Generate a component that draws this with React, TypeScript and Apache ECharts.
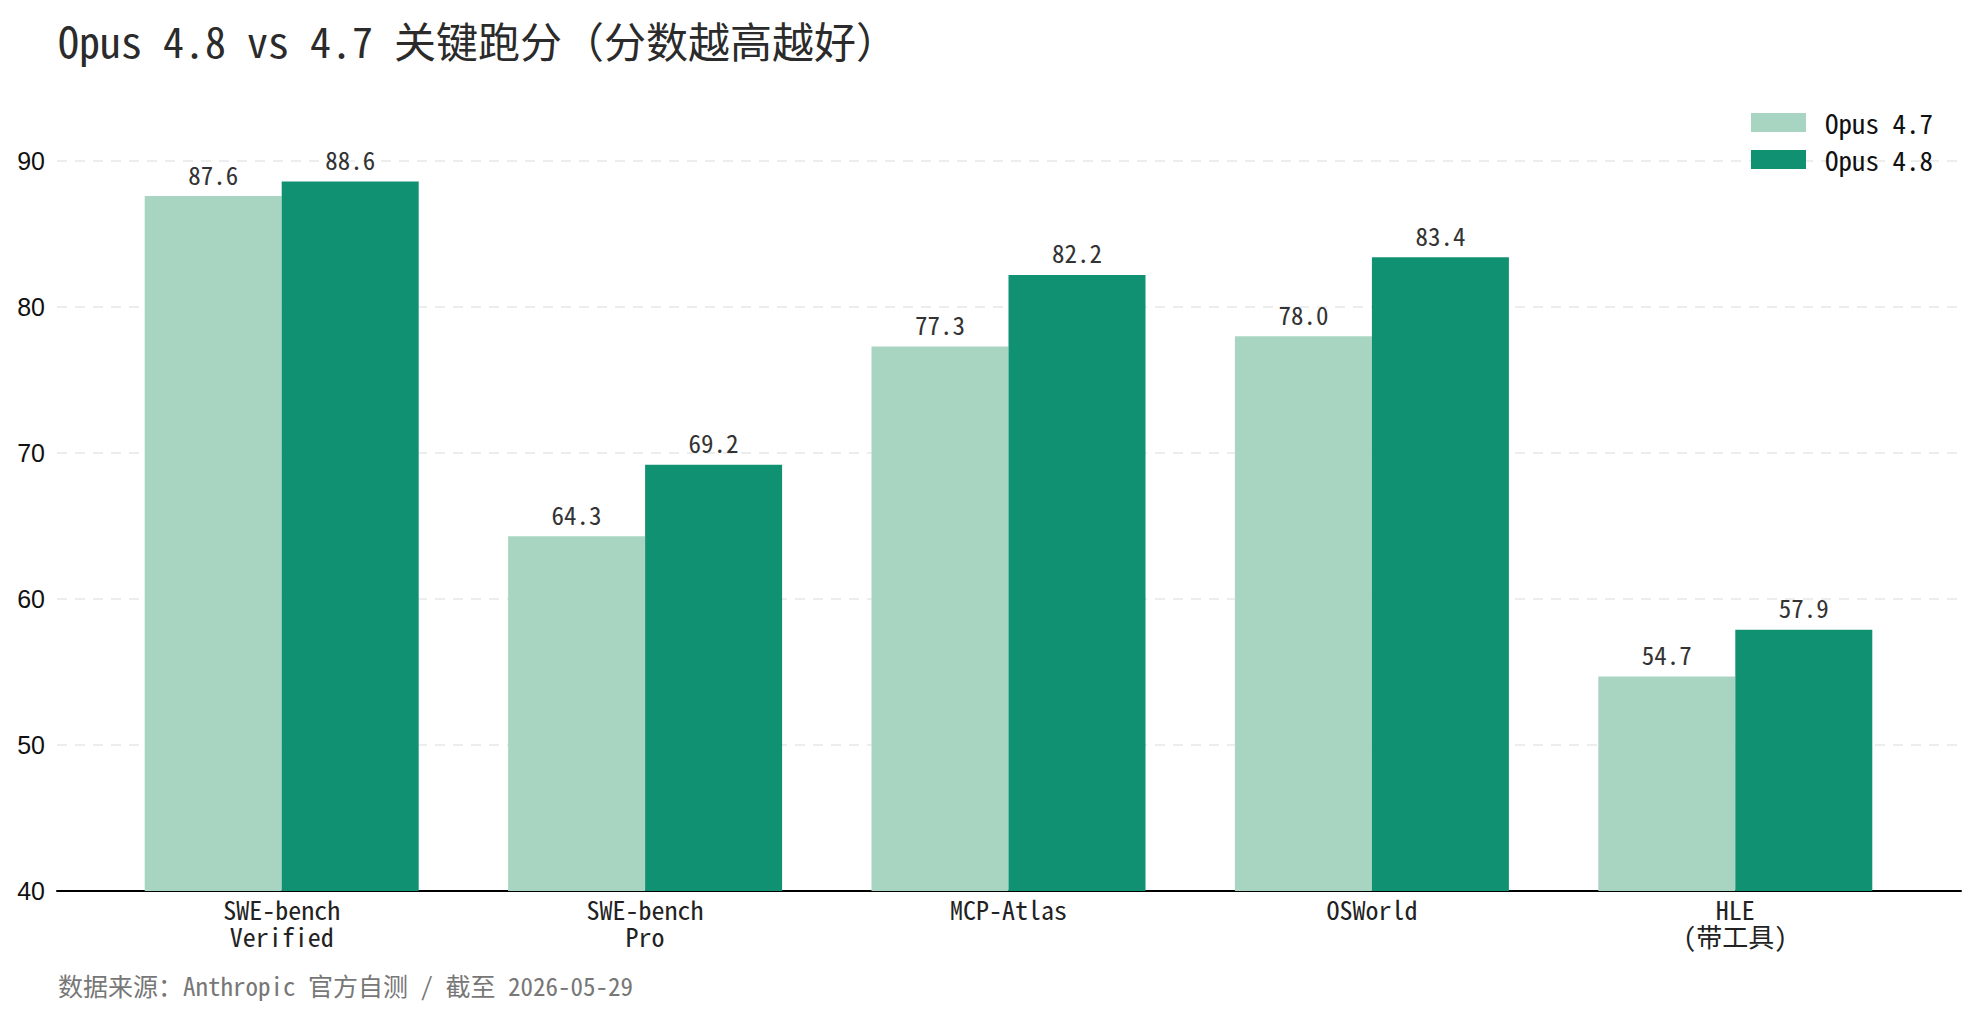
import React, { useEffect, useRef } from "react";
import * as echarts from "echarts";

const categories = ["SWE-bench\nVerified", "SWE-bench\nPro", "MCP-Atlas", "OSWorld", "HLE\n(带工具)"];
const opus47 = [87.6, 64.3, 77.3, 78.0, 54.7];
const opus48 = [88.6, 69.2, 82.2, 83.4, 57.9];
const seriesNames = ["Opus 4.7", "Opus 4.8"];
const yTicks = { min: 40, max: 90, interval: 10 };
const titleText = "Opus 4.8 vs 4.7 关键跑分（分数越高越好）";
const footerText = "数据来源：Anthropic 官方自测 / 截至 2026-05-29";

const MONO = '"Noto Sans Mono CJK SC", "DejaVu Sans Mono", "Noto Sans CJK SC", monospace';
const LIGHT = "#a8d5c2";
const DARK = "#109272";

export default function App() {
  const ref = useRef<HTMLDivElement>(null);
  useEffect(() => {
    document.body.style.margin = "0";
    const chart = echarts.init(ref.current!, null, { renderer: "svg" });
    const labelCfg = {
      show: true,
      position: "top",
      distance: 10,
      fontFamily: MONO,
      fontSize: 25,
      color: "#333",
      formatter: (p: any) => Number(p.value).toFixed(1),
    };
    chart.setOption({
      animation: false,
      backgroundColor: "#fff",
      title: {
        text: titleText,
        left: 53,
        top: 13,
        textStyle: { fontFamily: MONO, fontSize: 42, fontWeight: "normal", color: "#2b2b2b" },
      },
      legend: {
        orient: "vertical",
        right: 41,
        top: 104,
        itemWidth: 55,
        itemHeight: 19,
        itemGap: 10,
        icon: "rect",
        textStyle: { fontFamily: MONO, fontSize: 27, color: "#111", padding: [0, 0, 0, 14] },
        data: seriesNames,
      },
      graphic: [
        {
          type: "text",
          left: 58,
          top: 972,
          style: { text: footerText, fontFamily: MONO, fontSize: 25, fill: "#777" },
        },
      ],
      grid: [
        { left: 57, right: 18, top: 161, bottom: 128 },
        { left: 100, right: 62, top: 161, bottom: 128 },
      ],
      xAxis: [
        {
          gridIndex: 0,
          type: "value",
          min: 0,
          max: 1,
          axisLine: { show: true, lineStyle: { color: "#000", width: 2 } },
          axisTick: { show: false },
          axisLabel: { show: false },
          splitLine: { show: false },
        },
        {
          gridIndex: 1,
          type: "category",
          data: categories,
          axisLine: { show: false },
          axisTick: { show: false },
          axisLabel: {
            fontFamily: MONO,
            fontSize: 26,
            lineHeight: 27,
            color: "#222",
            margin: 4,
            interval: 0,
          },
        },
      ],
      yAxis: [
        {
          gridIndex: 0,
          type: "value",
          min: yTicks.min,
          max: yTicks.max,
          interval: yTicks.interval,
          axisLine: { show: false },
          axisTick: { show: false },
          axisLabel: { fontFamily: '"Liberation Sans", Arial, sans-serif', fontSize: 25, color: "#111", margin: 12 },
          splitLine: { show: true, lineStyle: { type: [10, 8], color: "#e8e8e8", width: 1.5 } },
        },
        {
          gridIndex: 1,
          type: "value",
          min: yTicks.min,
          max: yTicks.max,
          interval: yTicks.interval,
          show: false,
          splitLine: { show: false },
        },
      ],
      series: [
        {
          name: seriesNames[0],
          type: "bar",
          xAxisIndex: 1,
          yAxisIndex: 1,
          data: opus47,
          barWidth: 137,
          barGap: "0%",
          itemStyle: { color: LIGHT },
          label: labelCfg,
        },
        {
          name: seriesNames[1],
          type: "bar",
          xAxisIndex: 1,
          yAxisIndex: 1,
          data: opus48,
          barWidth: 137,
          barGap: "0%",
          itemStyle: { color: DARK },
          label: labelCfg,
        },
      ],
    });
    return () => chart.dispose();
  }, []);
  return <div ref={ref} style={{ position: "fixed", left: 0, top: 0, width: 1979, height: 1019 }} />;
}
